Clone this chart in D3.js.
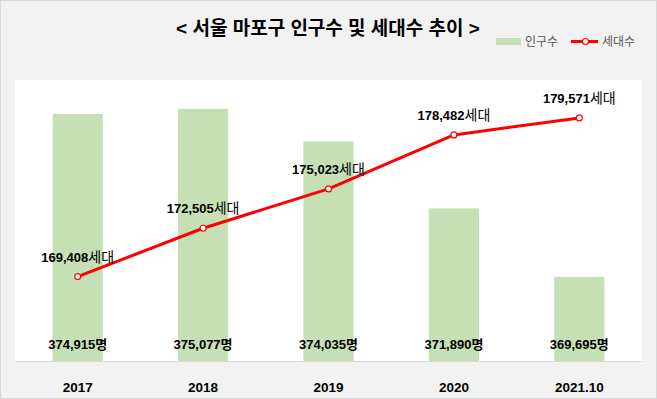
<!DOCTYPE html>
<html>
<head>
<meta charset="utf-8">
<script src="https://cdn.jsdelivr.net/npm/d3@7"></script>
<style>
    body { margin: 0; background: #ffffff; }
    svg { display: block; }
    text { font-family: "Liberation Sans", "Noto Sans CJK KR", sans-serif; }
</style>
</head>
<body>
<svg class="MapoChart" width="657" height="399"></svg>
<script>
const years = ['2017', '2018', '2019', '2020', '2021.10'];
const population = [374915, 375077, 374035, 371890, 369695];
const households = [169408, 172505, 175023, 178482, 179571];
const popDomain = [367000, 376000];
const houseDomain = [164000, 182000];

function buildRows()
{
    let rows = [];
    for (let i = 0; i < years.length; i++) {
        rows.push({
            "year": years[i],
            "pop": population[i],
            "house": households[i]
        });
    }
    return rows;
}

function renderMapoChart(data)
{
    const width = 657;
    const height = 399;
    const plot = { 'left': 15, 'right': 642, 'top': 80, 'bottom': 361 };
    const svg = d3.select('.MapoChart');

    // background + outer border
    svg.append('rect')
        .attr('x', 0.5).attr('y', 0.5)
        .attr('width', width - 1).attr('height', height - 1)
        .attr('fill', '#f2f2f2')
        .attr('stroke', '#d9d9d9');

    svg.append('rect')
        .attr('x', plot.left).attr('y', plot.top)
        .attr('width', plot.right - plot.left)
        .attr('height', plot.bottom - plot.top)
        .attr('fill', '#ffffff');

    const xScale = d3.scaleBand()
        .range([plot.left, plot.right])
        .domain(data.map(d => d.year))
        .paddingInner(0.6)
        .paddingOuter(0.3);

    const yPop = d3.scaleLinear()
        .range([plot.bottom, plot.top])
        .domain(popDomain);

    const yHouse = d3.scaleLinear()
        .range([plot.bottom, plot.top])
        .domain(houseDomain);

    const cx = d => xScale(d.year) + xScale.bandwidth() / 2;

    // bars
    svg.append('g').selectAll('rect')
        .data(data)
        .enter()
        .append('rect')
        .attr('x', d => xScale(d.year))
        .attr('y', d => yPop(d.pop))
        .attr('width', xScale.bandwidth())
        .attr('height', d => plot.bottom - yPop(d.pop))
        .attr('fill', '#c5e0b4');

    // x axis
    const xAxis = svg.append('g')
        .attr('class', 'x-axis')
        .attr('transform', `translate(0, ${plot.bottom})`)
        .call(d3.axisBottom(xScale).tickSize(0).tickPadding(21));
    xAxis.select('.domain')
        .attr('stroke', '#d9d9d9')
        .attr('d', `M${plot.left},0.5H${plot.right}`);
    xAxis.selectAll('text')
        .attr('font-family', '"Liberation Sans", "Noto Sans CJK KR", sans-serif')
        .attr('font-size', 13.5)
        .attr('font-weight', 'bold')
        .attr('fill', '#000000');

    // bar labels
    svg.append('g').selectAll('text')
        .data(data)
        .enter()
        .append('text')
        .attr('x', cx)
        .attr('y', 349)
        .attr('text-anchor', 'middle')
        .attr('font-size', 13)
        .attr('font-weight', 'bold')
        .text(d => d3.format(',')(d.pop) + '명');

    // household line
    const line = d3.line()
        .x(cx)
        .y(d => yHouse(d.house));

    svg.append('path')
        .datum(data)
        .attr('d', line)
        .attr('fill', 'none')
        .attr('stroke', '#ff0000')
        .attr('stroke-width', 3)
        .attr('stroke-linejoin', 'round');

    svg.append('g').selectAll('circle')
        .data(data)
        .enter()
        .append('circle')
        .attr('cx', cx)
        .attr('cy', d => yHouse(d.house))
        .attr('r', 3)
        .attr('fill', '#ffffff')
        .attr('stroke', '#ff0000')
        .attr('stroke-width', 1.2);

    const labels = svg.append('g').selectAll('text')
        .data(data)
        .enter()
        .append('text')
        .attr('x', cx)
        .attr('y', d => yHouse(d.house) - 15)
        .attr('text-anchor', 'middle')
        .attr('font-size', 13);
    labels.append('tspan')
        .attr('font-weight', 'bold')
        .text(d => d3.format(',')(d.house));
    labels.append('tspan')
        .attr('font-size', 14)
        .text('세대');

    // title
    svg.append('text')
        .attr('x', 328)
        .attr('y', 35)
        .attr('text-anchor', 'middle')
        .attr('font-size', 19)
        .attr('font-weight', 'bold')
        .text('< 서울 마포구 인구수 및 세대수 추이 >');

    // legend
    const legend = svg.append('g').attr('class', 'legend');
    legend.append('rect')
        .attr('x', 496).attr('y', 38)
        .attr('width', 25).attr('height', 7)
        .attr('fill', '#c5e0b4');
    legend.append('text')
        .attr('x', 525).attr('y', 46)
        .attr('font-size', 12)
        .attr('fill', '#595959')
        .text('인구수');
    legend.append('line')
        .attr('x1', 571).attr('x2', 598)
        .attr('y1', 41.5).attr('y2', 41.5)
        .attr('stroke', '#ff0000')
        .attr('stroke-width', 3);
    legend.append('circle')
        .attr('cx', 585.5).attr('cy', 41.5)
        .attr('r', 3)
        .attr('fill', '#ffffff')
        .attr('stroke', '#ff0000')
        .attr('stroke-width', 1.2);
    legend.append('text')
        .attr('x', 602).attr('y', 46)
        .attr('font-size', 12)
        .attr('fill', '#595959')
        .text('세대수');
}

renderMapoChart(buildRows());
</script>
</body>
</html>
